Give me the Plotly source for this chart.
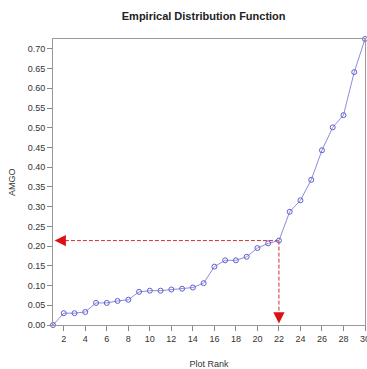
import plotly.graph_objects as go

plot_rank = list(range(1, 31))
amgo = [0.000, 0.030, 0.030, 0.033, 0.056, 0.056, 0.061, 0.064, 0.084, 0.087,
        0.087, 0.090, 0.092, 0.095, 0.106, 0.148, 0.164, 0.164, 0.173, 0.195,
        0.207, 0.214, 0.287, 0.316, 0.368, 0.443, 0.501, 0.532, 0.641, 0.725]
x_ticks = list(range(2, 31, 2))
y_ticks = [round(i * 0.05, 2) for i in range(15)]
sel_rank = 22
sel_value = 0.214

fig = go.Figure()
# dashed guide lines
fig.add_trace(go.Scatter(x=[sel_rank, 1.5], y=[sel_value, sel_value], mode="lines",
                         line=dict(color="#cc3333", width=1, dash="4px,2px"),
                         hoverinfo="skip", showlegend=False))
fig.add_trace(go.Scatter(x=[sel_rank, sel_rank], y=[sel_value, 0.01], mode="lines",
                         line=dict(color="#cc3333", width=1, dash="4px,2px"),
                         hoverinfo="skip", showlegend=False))
fig.add_trace(go.Scatter(x=plot_rank, y=amgo, mode="lines+markers",
                         line=dict(color="#8c8ce0", width=1),
                         marker=dict(symbol="circle-open", size=5, color="#6060cc",
                                     line=dict(width=1)),
                         showlegend=False, cliponaxis=False))

fig.add_annotation(x=1.15, y=sel_value, ax=10, ay=0, xref="x", yref="y",
                   showarrow=True, arrowhead=2, arrowsize=1.5, arrowwidth=1.5,
                   arrowcolor="#dd1111", text="")
fig.add_annotation(x=sel_rank, y=0.004, ax=0, ay=-10, xref="x", yref="y",
                   showarrow=True, arrowhead=2, arrowsize=1.5, arrowwidth=1.5,
                   arrowcolor="#dd1111", text="")
fig.add_annotation(x=0, y=0.5, xref="paper", yref="paper", text="AMGO", textangle=-90,
                   showarrow=False, xanchor="center", yanchor="middle", xshift=-41,
                   font=dict(size=9, color="#333333"))

fig.update_layout(
    width=367, height=369,
    margin=dict(l=53, r=2, t=39, b=44),
    paper_bgcolor="white", plot_bgcolor="white",
    font=dict(family="Liberation Sans, Arial, sans-serif", size=9, color="#333333"),
    title=dict(text="<b>Empirical Distribution Function</b>", x=0.555, xanchor="center",
               y=0.955, yanchor="middle", font=dict(size=11, color="#222222")),
    showlegend=False,
)
fig.update_xaxes(range=[1, 30], tickvals=x_ticks, ticks="outside", ticklen=5,
                 tickcolor="#888888", showline=True, linecolor="#999999", mirror=True,
                 showgrid=False, zeroline=False, ticklabeloverflow="allow",
                 automargin=False,
                 title=dict(text="Plot Rank", standoff=17, font=dict(size=9)))
fig.update_yaxes(range=[0, 0.725], tickvals=y_ticks, tickformat=".2f", ticks="outside",
                 ticklen=5, tickcolor="#888888", showline=True, linecolor="#999999",
                 mirror=True, showgrid=False, zeroline=False, automargin=False)

fig.write_html("out.html", config={"displayModeBar": False},
               post_script="document.body.style.margin='0';document.body.style.overflow='hidden';")
